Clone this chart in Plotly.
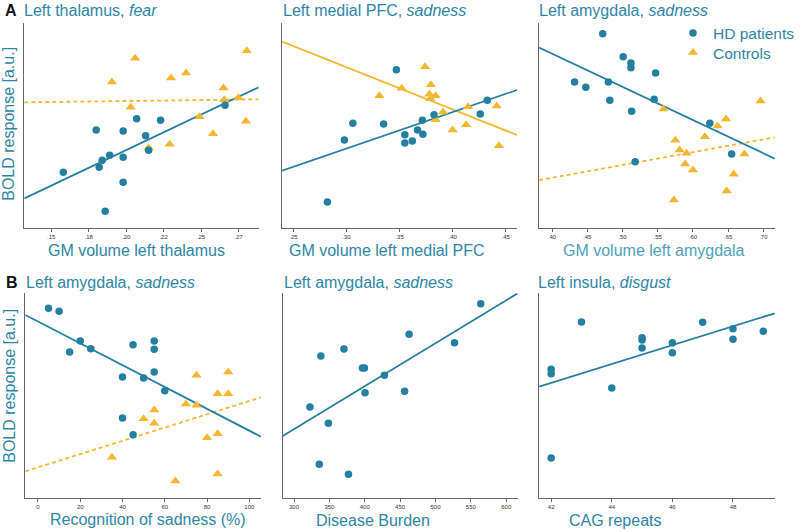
import plotly.graph_objects as go

# ---------------- data ----------------
# Panel A1: Left thalamus, fear
a1_hd_x = [0.158, 0.180, 0.182, 0.184, 0.189, 0.186, 0.198, 0.198, 0.198, 0.207, 0.213, 0.215, 0.223, 0.266]
a1_hd_y = [16.6, 29.3, 18.1, 20.2, 21.7, 4.9, 29.0, 21.1, 13.6, 32.7, 27.6, 23.2, 32.2, 36.7]
a1_ct_x = [0.1905, 0.206, 0.203, 0.215, 0.229, 0.230, 0.240, 0.249, 0.258, 0.265, 0.2655, 0.275, 0.280, 0.2805]
a1_ct_y = [43.7, 50.8, 36.1, 24.0, 25.0, 44.9, 46.4, 33.3, 28.2, 41.9, 38.4, 39.0, 31.9, 53.1]
a1_fit_x = [0.132, 0.2885]
a1_fit_hd_y = [8.8, 42.1]
a1_fit_ct_y = [37.6, 38.5]

# Panel A2: Left medial PFC, sadness
a2_hd_x = [0.282, 0.298, 0.306, 0.335, 0.347, 0.355, 0.355, 0.362, 0.367, 0.3715, 0.372, 0.3825, 0.426, 0.4326]
a2_hd_y = [7.7, 26.3, 31.3, 31.1, 47.4, 27.9, 25.4, 26.0, 29.3, 32.2, 28.0, 33.9, 34.1, 38.2]
a2_ct_x = [0.331, 0.352, 0.374, 0.3795, 0.378, 0.384, 0.379, 0.384, 0.391, 0.400, 0.4146, 0.4127, 0.4415, 0.4436]
a2_ct_y = [39.6, 41.8, 48.3, 42.9, 40.0, 39.6, 38.7, 32.4, 34.7, 29.3, 36.3, 30.9, 36.5, 24.6]
a2_fit_x = [0.2393, 0.4607]
a2_fit_hd_y = [17.1, 41.3]
a2_fit_ct_y = [55.8, 27.8]

# Panel A3: Left amygdala, sadness
a3_hd_x = [0.472, 0.432, 0.448, 0.480, 0.482, 0.501, 0.512, 0.512, 0.513, 0.547, 0.545, 0.518, 0.624, 0.655]
a3_hd_y = [58.2, 43.7, 42.1, 43.7, 38.2, 51.3, 49.4, 48.0, 34.9, 46.4, 38.5, 19.8, 31.3, 22.1]
a3_ct_x = [0.558, 0.575, 0.581, 0.591, 0.589, 0.600, 0.573, 0.617, 0.635, 0.647, 0.648, 0.658, 0.673, 0.696]
a3_ct_y = [35.6, 26.2, 23.3, 22.3, 19.1, 17.3, 8.3, 27.3, 30.5, 32.6, 11.0, 16.0, 22.1, 38.0]
a3_fit_x = [0.3816, 0.7162]
a3_fit_hd_y = [54.0, 20.7]
a3_fit_ct_y = [14.3, 27.1]

# Panel B1: Left amygdala, sadness vs recognition
b1_hd_x = [5, 10, 15, 20, 25, 40, 45, 50, 55, 55, 55, 60, 40, 45]
b1_hd_y = [56.8, 55.9, 43.7, 47.0, 44.7, 36.2, 45.9, 35.9, 47.0, 44.5, 37.7, 32.1, 23.9, 18.9]
b1_ct_x = [35, 50, 55, 55, 65, 70, 75, 75, 80, 85, 85, 85, 90, 90]
b1_ct_y = [12.1, 23.7, 26.3, 22.3, 5.0, 28.1, 36.7, 27.7, 18.0, 31.2, 19.2, 7.1, 37.7, 31.2]
b1_fit_x = [-6, 105.5]
b1_fit_hd_y = [54.8, 18.3]
b1_fit_ct_y = [7.9, 30.1]

# Panel B2: Left amygdala, sadness vs disease burden
b2_hd_x = [322.5, 335.7, 338.0, 348.6, 370.6, 377.0, 396.7, 399.5, 400.4, 427.9, 456.3, 462.7, 526.9, 564.0]
b2_hd_y = [27.2, 10.0, 42.5, 22.3, 44.6, 7.0, 38.9, 38.9, 31.5, 36.7, 31.9, 49.0, 46.5, 58.2]
b2_fit_x = [284, 616.2]
b2_fit_hd_y = [18.5, 61.3]

# Panel B3: Left insula, disgust vs CAG repeats
b3_hd_x = [42, 42, 42, 43, 44, 45, 45, 45, 46, 46, 47, 48, 48, 49]
b3_hd_y = [38.5, 37.2, 11.9, 52.7, 32.9, 48.0, 47.3, 44.9, 46.5, 43.5, 52.6, 50.7, 47.5, 49.9]
b3_fit_x = [41.6, 49.38]
b3_fit_hd_y = [33.3, 55.3]

# tick labels
a1_ticks = [0.15, 0.175, 0.20, 0.225, 0.25, 0.275]
a1_ticktext = [".15", ".18", ".20", ".22", ".25", ".27"]
a2_ticks = [0.25, 0.30, 0.35, 0.40, 0.45]
a2_ticktext = [".25", ".30", ".35", ".40", ".45"]
a3_ticks = [0.40, 0.45, 0.50, 0.55, 0.60, 0.65, 0.70]
a3_ticktext = [".40", ".45", ".50", ".55", ".60", ".65", ".70"]
b1_ticks = [0, 20, 40, 60, 80, 100]
b2_ticks = [300, 350, 400, 450, 500, 550, 600]
b3_ticks = [42, 44, 46, 48]

# ---------------- style ----------------
W, H = 800, 532
BLUE = "#24809f"
TXT = "#2d86a6"
ORANGE = "#f4b731"
AXC = "#666666"
FONT = "Liberation Sans, Arial, sans-serif"

fig = go.Figure()

def px_x(p):
    return p / W

def px_y(p):
    return 1 - p / H

panels = [
    ("", (25, 266), (23.3, 227.7), (0.132, 0.2885), a1_ticks, a1_ticktext),
    ("2", (290, 531.7), (23.3, 227.7), (0.2393, 0.4607), a2_ticks, a2_ticktext),
    ("3", (554.3, 796.7), (23.3, 227.7), (0.3816, 0.7162), a3_ticks, a3_ticktext),
    ("4", (26, 268.3), (293.3, 497.7), (-6, 105.5), b1_ticks, [str(t) for t in b1_ticks]),
    ("5", (290.7, 532.3), (293.3, 497.7), (284, 616.2), b2_ticks, [str(t) for t in b2_ticks]),
    ("6", (554.3, 796.7), (293.3, 497.7), (41.6, 49.38), b3_ticks, [str(t) for t in b3_ticks]),
]

layout = dict(
    width=W, height=H,
    margin=dict(l=0, r=0, t=0, b=0),
    paper_bgcolor="white", plot_bgcolor="white",
    font=dict(family=FONT, color=TXT),
)

for name, xd, yd, xr, tv, tt in panels:
    layout["xaxis" + name] = dict(
        domain=[px_x(xd[0]), px_x(xd[1])], range=list(xr),
        anchor="y" + name, showgrid=False, zeroline=False,
        showline=True, linecolor=AXC, linewidth=1,
        ticks="outside", ticklen=3, tickwidth=1, tickcolor=AXC,
        tickvals=tv, ticktext=tt,
        tickfont=dict(size=6, color="#333333", family=FONT),
        fixedrange=True,
    )
    layout["yaxis" + name] = dict(
        domain=[px_y(yd[1]), px_y(yd[0])], range=[0, 61.3],
        anchor="x" + name, showgrid=False, zeroline=False,
        showline=True, linecolor=AXC, linewidth=1,
        showticklabels=False, ticks="",
        fixedrange=True,
    )

def add_panel(k, hd_x, hd_y, fit_x, fit_hd_y, ct_x=None, ct_y=None, fit_ct_y=None,
              ct_dash="dash", legend=False):
    xa = "x" + k
    ya = "y" + k
    if fit_ct_y is not None:
        fig.add_trace(go.Scatter(x=fit_x, y=fit_ct_y, mode="lines", xaxis=xa, yaxis=ya,
                                 line=dict(color=ORANGE, width=1.8, dash=ct_dash),
                                 showlegend=False, hoverinfo="skip"))
    fig.add_trace(go.Scatter(x=fit_x, y=fit_hd_y, mode="lines", xaxis=xa, yaxis=ya,
                             line=dict(color=BLUE, width=1.8),
                             showlegend=False, hoverinfo="skip"))
    if ct_x is not None:
        fig.add_trace(go.Scatter(x=ct_x, y=ct_y, mode="markers", xaxis=xa, yaxis=ya,
                                 name="Controls", legend="legend2",
                                 marker=dict(symbol="triangle-up", size=9, color=ORANGE),
                                 showlegend=legend))
    fig.add_trace(go.Scatter(x=hd_x, y=hd_y, mode="markers", xaxis=xa, yaxis=ya,
                             name="HD patients", legend="legend",
                             marker=dict(symbol="circle", size=7.5, color=BLUE),
                             showlegend=legend))

add_panel("", a1_hd_x, a1_hd_y, a1_fit_x, a1_fit_hd_y, a1_ct_x, a1_ct_y, a1_fit_ct_y, "4px,3px")
add_panel("2", a2_hd_x, a2_hd_y, a2_fit_x, a2_fit_hd_y, a2_ct_x, a2_ct_y, a2_fit_ct_y, "solid")
add_panel("3", a3_hd_x, a3_hd_y, a3_fit_x, a3_fit_hd_y, a3_ct_x, a3_ct_y, a3_fit_ct_y, "4px,3px", legend=True)
add_panel("4", b1_hd_x, b1_hd_y, b1_fit_x, b1_fit_hd_y, b1_ct_x, b1_ct_y, b1_fit_ct_y, "4px,3px")
add_panel("5", b2_hd_x, b2_hd_y, b2_fit_x, b2_fit_hd_y)
add_panel("6", b3_hd_x, b3_hd_y, b3_fit_x, b3_fit_hd_y)

leg_common = dict(
    xanchor="left", yanchor="top",
    bgcolor="rgba(0,0,0,0)", borderwidth=0,
    font=dict(size=15.5, color=TXT, family=FONT),
    itemwidth=30,
)
layout["legend"] = dict(x=px_x(692), y=px_y(16.5), **leg_common)
layout["legend2"] = dict(x=px_x(692), y=px_y(36), **leg_common)

annotations = []
def ann(text, x, y, size=16, color=TXT, xanchor="left", angle=0):
    annotations.append(dict(text=text, x=px_x(x), y=px_y(y), xref="paper", yref="paper",
                            xanchor=xanchor, yanchor="middle", showarrow=False,
                            textangle=angle, font=dict(size=size, color=color, family=FONT)))

# panel letters
ann("<b>A</b>", 3, 11, size=16, color="#111111")
ann("<b>B</b>", 4, 282, size=16, color="#111111")
# panel titles
ann("Left thalamus, <i>fear</i>", 23, 11)
ann("Left medial PFC, <i>sadness</i>", 288.5, 11)
ann("Left amygdala, <i>sadness</i>", 552, 11)
ann("Left amygdala, <i>sadness</i>", 24.5, 282)
ann("Left amygdala, <i>sadness</i>", 290, 282)
ann("Left insula, <i>disgust</i>", 551, 282)
# x-axis titles
ann("GM volume left thalamus", 140, 250, xanchor="center")
ann("GM volume left medial PFC", 398, 250, xanchor="center")
ann("GM volume left amygdala", 672, 250, xanchor="center", color="#4f9fbb")
ann("Recognition of sadness (%)", 152, 519, xanchor="center")
ann("Disease Burden", 384, 520, xanchor="center")
ann("CAG repeats", 632, 520, xanchor="center")
# y-axis titles
for yc in (124, 386):
    annotations.append(dict(text="BOLD response [a.u.]", x=px_x(9), y=px_y(yc), xref="paper", yref="paper",
                            xanchor="center", yanchor="middle", showarrow=False, textangle=-90,
                            font=dict(size=16, color=TXT, family=FONT)))
layout["annotations"] = annotations

fig.update_layout(**layout)
fig.write_html("out.html", config={"displayModeBar": False},
               post_script="document.body.style.margin='0';document.body.style.overflow='hidden';")
